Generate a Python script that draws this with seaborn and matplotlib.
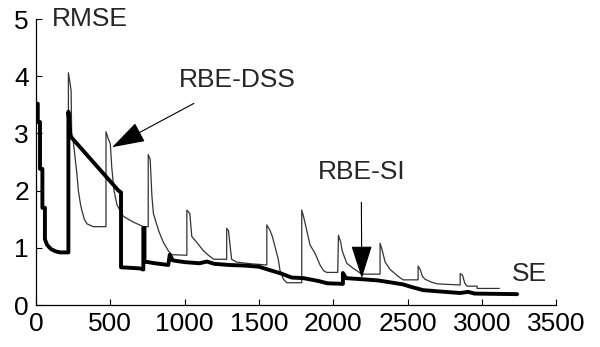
import numpy as np
import pandas as pd
import matplotlib
matplotlib.use('Agg')
import matplotlib.pyplot as plt
import seaborn as sns

# thick line
se_x = [0, 12, 12, 27, 27, 43, 43, 60, 60, 75, 100, 130, 160, 218, 218, 232, 555, 572, 572, 700, 722, 722, 730, 730,
        800, 890, 900, 920, 1000, 1100, 1150, 1200, 1300, 1400, 1500, 1560, 1650, 1720, 1800, 1900, 1960, 2065, 2065,
        2085, 2200, 2300, 2400, 2470, 2520, 2605, 2700, 2854, 2908, 2950, 3237]
se_y = [3.52, 3.52, 3.2, 3.2, 2.38, 2.38, 1.7, 1.7, 1.15, 1.05, 0.98, 0.94, 0.92, 0.92, 3.38, 2.95, 2.0, 1.97, 0.66,
        0.64, 0.62, 1.35, 1.35, 0.76, 0.73, 0.70, 0.88, 0.78, 0.75, 0.73, 0.76, 0.72, 0.70, 0.69, 0.67, 0.62, 0.55,
        0.48, 0.47, 0.42, 0.38, 0.37, 0.56, 0.47, 0.45, 0.43, 0.39, 0.36, 0.32, 0.26, 0.24, 0.21, 0.23, 0.20, 0.19]

# thin line
dss_x = [218, 218, 229, 236, 240, 249, 262, 275, 285, 300, 309, 325, 343, 385, 471, 471, 487, 500, 510, 525, 545,
         588, 655, 722, 755, 755, 768, 780, 790, 825, 856, 890, 913, 1015, 1015, 1035, 1048, 1080, 1126, 1160, 1196,
         1283, 1283, 1295, 1316, 1350, 1450, 1553, 1553, 1575, 1590, 1610, 1630, 1642, 1665, 1687, 1788, 1788, 1800,
         1822, 1844, 1878, 1911, 1935, 1956, 2030, 2035, 2050, 2060, 2091, 2135, 2192, 2315, 2315, 2330, 2349, 2383,
         2437, 2470, 2571, 2571, 2585, 2600, 2618, 2660, 2700, 2854, 2854, 2870, 2885, 2900, 2968, 2968, 3117]
dss_y = [0.92, 4.06, 3.88, 3.75, 3.0, 2.9, 2.6, 2.3, 2.0, 1.75, 1.65, 1.5, 1.42, 1.37, 1.37, 3.03, 2.9, 2.82, 2.4,
         2.0, 1.75, 1.55, 1.45, 1.37, 1.37, 2.63, 2.55, 1.9, 1.6, 1.3, 1.1, 0.95, 0.88, 0.87, 1.66, 1.6, 1.2, 1.1,
         0.95, 0.87, 0.8, 0.8, 1.34, 1.3, 0.8, 0.75, 0.72, 0.70, 1.4, 1.3, 1.2, 1.0, 0.8, 0.6, 0.45, 0.39, 0.39,
         1.66, 1.55, 1.3, 1.05, 0.9, 0.7, 0.6, 0.57, 0.57, 1.22, 1.1, 0.95, 0.73, 0.64, 0.54, 0.54, 1.08, 0.95, 0.75,
         0.62, 0.5, 0.44, 0.44, 0.68, 0.62, 0.5, 0.45, 0.40, 0.37, 0.35, 0.55, 0.52, 0.38, 0.33, 0.33, 0.29, 0.29]

x_ticks = [0, 500, 1000, 1500, 2000, 2500, 3000, 3500]
y_ticks = [0, 1, 2, 3, 4, 5]

sns.set_style('ticks')
plt.rcParams['font.family'] = ['Liberation Sans', 'DejaVu Sans']
plt.rcParams['xtick.direction'] = 'in'
plt.rcParams['ytick.direction'] = 'in'

fig = plt.figure(figsize=(6, 3.47), dpi=100)
ax = fig.add_axes([0.06, 0.121, 0.867, 0.824])

sns.lineplot(x=dss_x, y=dss_y, sort=False, estimator=None, color='0.2', lw=0.9, ax=ax)
sns.lineplot(x=se_x, y=se_y, sort=False, estimator=None, color='black', lw=2.8, ax=ax)

ax.set_xlim(0, 3500)
ax.set_ylim(0, 5)
ax.set_xticks(x_ticks)
ax.set_yticks(y_ticks)
ax.tick_params(labelsize=19, length=4, width=0.8, colors='black', pad=5)
sns.despine(ax=ax)
for s in ['left', 'bottom']:
    ax.spines[s].set_linewidth(0.9)
    ax.spines[s].set_color('black')

ax.text(108, 5.0, 'RMSE', fontsize=19, ha='left', va='center')

head = '-|>,head_length=1.1,head_width=0.35'
ax.annotate('RBE-DSS', xy=(512, 2.76), xytext=(1353, 3.93), fontsize=19, ha='center', va='center',
            arrowprops=dict(arrowstyle=head, color='black', lw=0.8, shrinkA=12, shrinkB=0))
ax.annotate('RBE-SI', xy=(2192, 0.47), xytext=(2188, 2.33), fontsize=19, ha='center', va='center',
            arrowprops=dict(arrowstyle=head, color='black', lw=0.8, shrinkA=11, shrinkB=0))
ax.text(3322, 0.54, 'SE', fontsize=19, ha='center', va='center')

fig.savefig('out.png', dpi=100)
